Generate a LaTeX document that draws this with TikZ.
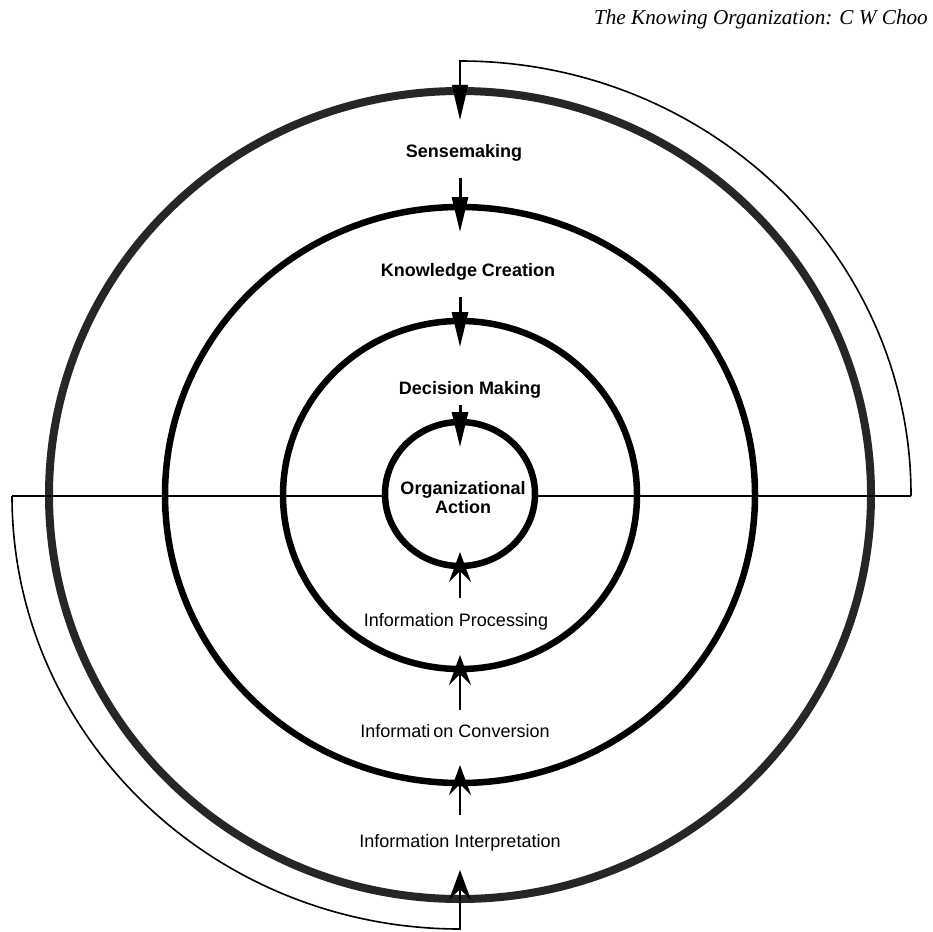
\documentclass[tikz,border=0pt]{standalone}
\usepackage{fontspec}
\setmainfont{Liberation Sans}
\newfontfamily\hdrfont{Liberation Serif}
\usetikzlibrary{arrows.meta}
\begin{document}
\begin{tikzpicture}[x=1pt,y=-1pt,
  ring/.style={line width=6.5pt},
  outerring/.style={line width=8pt, draw=black!85},
  band/.style={line width=1.6pt},
  downarr/.style={line width=3pt, -{Triangle[length=35pt,width=16pt]}},
  uparr/.style={line width=2pt, -{Stealth[length=30pt,width=22pt,inset=11pt]}},
  lab/.style={font=\fontsize{18}{21}\selectfont, inner sep=0pt},
  blab/.style={font=\fontsize{18}{21}\selectfont\bfseries, inner sep=0pt, align=center},
]
\useasboundingbox (0,0) rectangle (933,931);
\coordinate (C) at (460,495);
% rings
\draw[outerring] (C) ellipse [x radius=411, y radius=404];
\draw[ring] (C) ellipse [x radius=295, y radius=288];
\draw[ring] (C) ellipse [x radius=177, y radius=174];
\draw[ring] (460,494) ellipse [x radius=75, y radius=72];
% horizontal axis
\coordinate (Lend) at (12,496);
\coordinate (Rend) at (911,496);
\draw[band] (Lend) -- (385,496);
\draw[band] (535,496) -- (Rend);
% outer bands
\draw[band, -{Triangle[length=35pt,width=16pt]}] (Rend) -- (911,495)
   arc[start angle=0, end angle=-90, x radius=451, y radius=434] -- (460,120);
\draw[band, -{Stealth[length=30pt,width=22pt,inset=11pt]}] (Lend)
   arc[start angle=180, end angle=90, x radius=448, y radius=433] -- (460,870);
% inner arrows
\draw[downarr] (460,178) -- (460,232);
\draw[downarr] (460,297) -- (460,347);
\draw[downarr] (460,405) -- (460,447);
\draw[uparr] (460,815) -- (460,765);
\draw[uparr] (460,710) -- (460,655);
\draw[uparr] (460,598) -- (460,552);
% labels
\node[anchor=base east, font=\hdrfont\itshape\fontsize{21.2}{25}\selectfont, inner sep=0pt] (hdr) at (928,25) {The Knowing Organization: C W Choo};
\node[blab] (sense) at (464,153) {Sensemaking};
\node[blab] (know) at (468,272) {Knowledge Creation};
\node[blab] (dec) at (470,390) {Decision Making};
\node[blab] (org) at (463,498) {Organizational\\[-2pt]Action};
\node[lab] (proc) at (456,622) {Information Processing};
\node[lab] (conv) at (455,731) {Informati\kern3pt on Conversion};
\node[lab] (interp) at (460,843) {Information Interpretation};
\end{tikzpicture}
\end{document}
